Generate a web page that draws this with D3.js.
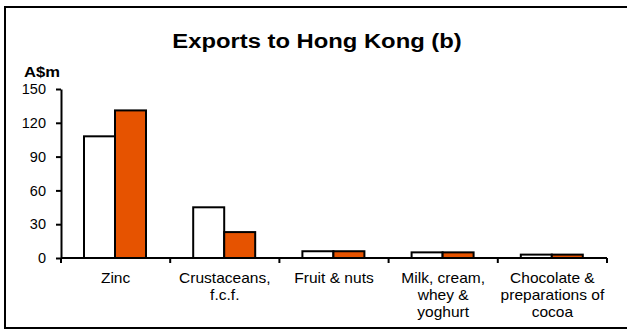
<!DOCTYPE html>
<html>
<head>
<meta charset="utf-8">
<script src="https://cdn.jsdelivr.net/npm/d3@7"></script>
<style>
  body { margin: 0; background: #fff; }
  text { font-family: "Liberation Sans", Arial, sans-serif; fill: #000; }
</style>
</head>
<body>
<script>
// categories (multi-line labels) and two series
var categories = ["Zinc", "Crustaceans, f.c.f.", "Fruit & nuts", "Milk, cream, whey & yoghurt", "Chocolate & preparations of cocoa"];
var catLines = [["Zinc"], ["Crustaceans,", "f.c.f."], ["Fruit & nuts"], ["Milk, cream,", "whey &", "yoghurt"], ["Chocolate &", "preparations of", "cocoa"]];
var series = ["prev", "curr"];
var prevValues = [108, 45, 6, 5, 3];
var currValues = [131, 23, 6, 5, 3];
var yTicks = [0, 30, 60, 90, 120, 150];

var width = 627,
    height = 332;

var svg = d3.select("body").append("svg")
    .attr("width", width)
    .attr("height", height);

// frame (right side runs off the picture)
svg.append("rect")
    .attr("x", 5).attr("y", 7)
    .attr("width", 640).attr("height", 321)
    .attr("fill", "none")
    .attr("stroke", "#000")
    .attr("stroke-width", 2);

// the original picture is a bit stretched sideways, so text gets scaleX
svg.append("text")
    .attr("transform", "translate(317,48) scale(1.19,1)")
    .attr("text-anchor", "middle")
    .style("font-size", "20px")
    .style("font-weight", "bold")
    .text("Exports to Hong Kong (b)");

svg.append("text")
    .attr("transform", "translate(24,77) scale(1.07,1)")
    .style("font-size", "15.5px")
    .style("font-weight", "bold")
    .text("A$m");

var x = d3.scaleBand().domain(categories).range([61, 607]);
var x1 = d3.scaleBand().domain(series).range([23, 85]);
var y = d3.scaleLinear().domain([0, 150]).range([258, 89]);

var data = categories.map(function(c, i){
  return {cat: c, vals: [
    {s: "prev", v: prevValues[i]},
    {s: "curr", v: currValues[i]}
  ]};
});

var groups = svg.selectAll("g.grp")
  .data(data)
  .enter().append("g")
    .attr("class", "grp")
    .attr("transform", function(d){ return "translate(" + x(d.cat) + ",0)"; });

groups.selectAll("rect")
  .data(function(d){ return d.vals; })
  .enter().append("rect")
    .attr("x", function(d){ return x1(d.s); })
    .attr("y", function(d){ return y(d.v); })
    .attr("width", x1.bandwidth())
    .attr("height", function(d){ return y(0) - y(d.v); })
    .attr("fill", function(d){ return d.s == "prev" ? "#fff" : "#e65300"; })
    .attr("stroke", "#000")
    .attr("stroke-width", 2);

// y axis
var yAxis = svg.append("g")
    .attr("transform", "translate(61,0)")
    .call(d3.axisLeft(y).tickValues(yTicks).tickSize(5).tickPadding(10).tickSizeOuter(0));
yAxis.select(".domain").attr("stroke-width", 2);
yAxis.selectAll(".tick line").attr("stroke-width", 2);
yAxis.selectAll(".tick text")
    .style("font-size", "14.5px")
    .style("font-family", "'Liberation Sans', Arial, sans-serif");

// x axis line and ticks at category boundaries
var bounds = categories.map(function(c){ return x(c); }).concat([x.range()[1]]);
svg.append("line")
    .attr("x1", 61).attr("x2", 607)
    .attr("y1", y(0)).attr("y2", y(0))
    .attr("stroke", "#000").attr("stroke-width", 2);
svg.selectAll("line.xt")
  .data(bounds)
  .enter().append("line")
    .attr("class", "xt")
    .attr("x1", function(d){ return d; }).attr("x2", function(d){ return d; })
    .attr("y1", y(0)).attr("y2", y(0) + 5)
    .attr("stroke", "#000").attr("stroke-width", 2);

// category labels
var lab = svg.selectAll("text.cat")
  .data(categories)
  .enter().append("text")
    .attr("class", "cat")
    .attr("transform", function(d){ return "translate(" + (x(d) + x.bandwidth() / 2) + ",0) scale(1.11,1)"; })
    .attr("text-anchor", "middle")
    .style("font-size", "14px");
lab.selectAll("tspan")
  .data(function(d, i){ return catLines[i]; })
  .enter().append("tspan")
    .attr("x", 0)
    .attr("y", function(d, j){ return 283 + j * 17; })
    .text(function(d){ return d; });
</script>
</body>
</html>
